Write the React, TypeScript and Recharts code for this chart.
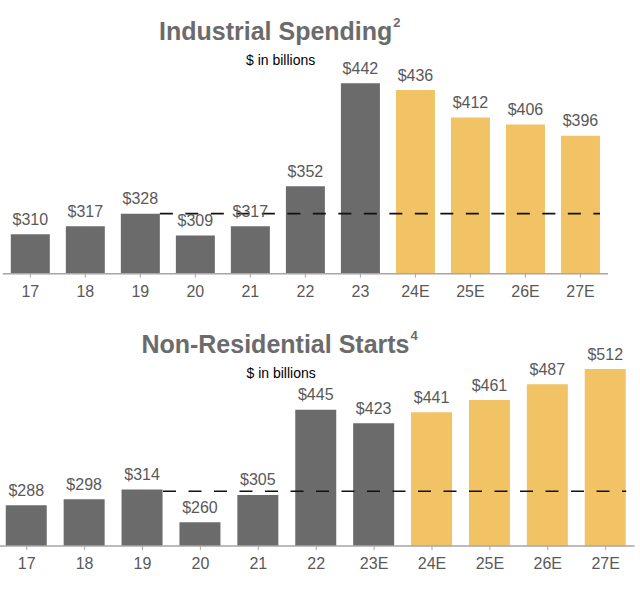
import { Bar, BarChart, Cell, LabelList, ReferenceLine, XAxis, YAxis } from "recharts";

const industrialYears = ["17", "18", "19", "20", "21", "22", "23", "24E", "25E", "26E", "27E"];
const industrialValues = [310, 317, 328, 309, 317, 352, 442, 436, 412, 406, 396];
const industrialBaseline = 328;

const startsYears = ["17", "18", "19", "20", "21", "22", "23E", "24E", "25E", "26E", "27E"];
const startsValues = [288, 298, 314, 260, 305, 445, 423, 441, 461, 487, 512];
const startsBaseline = 311;

const forecastYears = ["24E", "25E", "26E", "27E"];

const GRAY = "#6b6b6b";
const GOLD = "#f2c365";
const TEXT = "#595959";
const AXIS = "#a6a6a6";
const FONT = "'Liberation Sans', Arial, sans-serif";

type Row = { year: string; value: number };

function toRows(years: string[], values: number[]): Row[] {
  return years.map((year, i) => ({ year, value: values[i] }));
}

type PanelProps = {
  rows: Row[];
  baseline: number;
  domain: [number, number];
  width: number;
  height: number;
  margin: { top: number; right: number; bottom: number; left: number };
  barSize: number;
};

function Panel({ rows, baseline, domain, width, height, margin, barSize }: PanelProps) {
  const half = barSize / 2;
  return (
    <BarChart width={width} height={height} data={rows} margin={margin}>
      <XAxis
        dataKey="year"
        height={30}
        tickSize={4}
        tickMargin={8}
        axisLine={{ stroke: AXIS, strokeWidth: 1.5 }}
        tickLine={{ stroke: AXIS }}
        tick={{ fill: TEXT, fontSize: 16 }}
        interval={0}
      />
      <YAxis hide type="number" domain={domain} />
      <Bar dataKey="value" barSize={barSize} isAnimationActive={false}>
        {rows.map((r) => (
          <Cell key={r.year} fill={forecastYears.includes(r.year) ? GOLD : GRAY} />
        ))}
        <LabelList
          dataKey="value"
          position="top"
          offset={9.5}
          formatter={(v: number) => `$${v}`}
          style={{ fill: TEXT, fontSize: 16 }}
        />
      </Bar>
      <ReferenceLine
        segment={[
          { x: "19", y: baseline },
          { x: rows[rows.length - 1].year, y: baseline },
        ]}
        shape={(p: any) => (
          <line
            x1={p.x1 + half}
            x2={p.x2 + half}
            y1={p.y1}
            y2={p.y2}
            stroke="#111"
            strokeWidth={1.6}
            strokeDasharray="13 12.5"
          />
        )}
      />
    </BarChart>
  );
}

export default function App() {
  return (
    <div
      style={{
        position: "absolute",
        left: 0,
        top: 0,
        width: 640,
        height: 592,
        background: "#fff",
        fontFamily: FONT,
      }}
    >
      <div style={{ position: "absolute", left: 0, top: 0 }}>
        <Panel
          rows={toRows(industrialYears, industrialValues)}
          baseline={industrialBaseline}
          domain={[275.5, 450]}
          width={640}
          height={310}
          margin={{ top: 74.1, right: 32, bottom: 6.3, left: 2.8 }}
          barSize={39}
        />
      </div>
      <div style={{ position: "absolute", left: 0, top: 310 }}>
        <Panel
          rows={toRows(startsYears, startsValues)}
          baseline={startsBaseline}
          domain={[221, 520]}
          width={640}
          height={282}
          margin={{ top: 54.2, right: 5.35, bottom: 16, left: -2.25 }}
          barSize={41}
        />
      </div>
      <svg
        width={640}
        height={592}
        style={{ position: "absolute", left: 0, top: 0, pointerEvents: "none" }}
      >
        <text x={159} y={39.5} fill="#6b6b6b" fontSize={25} fontWeight="bold">
          Industrial Spending
          <tspan fontSize={13} dy={-13} dx={1}>2</tspan>
        </text>
        <text x={246} y={65} fill="#000" fontSize={14}>
          $ in billions
        </text>
        <text x={141.4} y={353.3} fill="#6b6b6b" fontSize={25} fontWeight="bold">
          Non-Residential Starts
          <tspan fontSize={13} dy={-13} dx={1}>4</tspan>
        </text>
        <text x={246.5} y={378.3} fill="#000" fontSize={14}>
          $ in billions
        </text>
      </svg>
    </div>
  );
}
